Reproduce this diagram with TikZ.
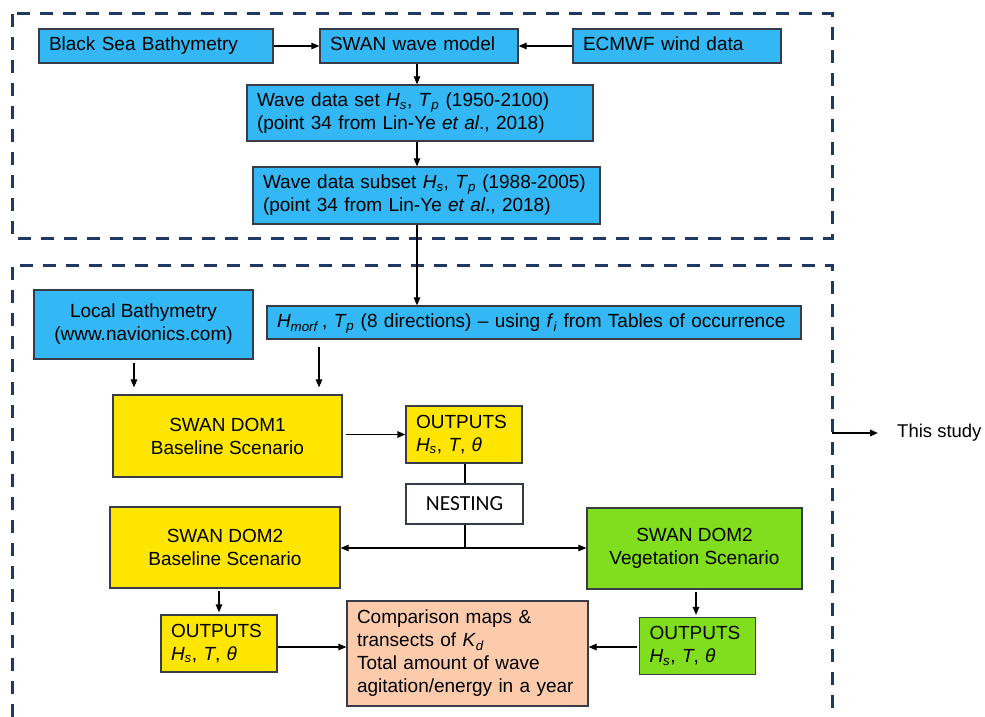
\documentclass[tikz,border=0pt]{standalone}
\usepackage{fontspec}
\setmainfont{Liberation Sans}
\newfontfamily\nestfont{Carlito}
\usetikzlibrary{arrows.meta}

\definecolor{seablue}{RGB}{51,183,245}
\definecolor{domyellow}{RGB}{255,230,0}
\definecolor{veggreen}{RGB}{128,222,30}
\definecolor{peach}{RGB}{251,203,172}
\definecolor{framenavy}{RGB}{31,56,100}
\definecolor{boxline}{RGB}{55,60,70}

\newcommand{\Hs}{\textit{H}\textsubscript{\textit{s}}}
\newcommand{\Tp}{\textit{T}\textsubscript{\textit{p}}}

\tikzset{
    box/.style={draw=boxline, line width=1.2pt, inner xsep=10pt, inner ysep=0pt,
        font=\fontsize{19}{23}\selectfont},
    seabox/.style={box, fill=seablue},
    onebox/.style={seabox, text height=14pt, text depth=4pt},
    dombox/.style={box, fill=domyellow, align=center},
    vegbox/.style={box, fill=veggreen, align=center},
    outbox/.style={box, text width=96pt, align=left, minimum height=57pt},
    frame/.style={draw=framenavy, line width=3pt, dash pattern=on 13pt off 10pt},
    link/.style={line width=1.2pt}
}

\begin{document}
\begin{tikzpicture}[x=1pt, y=-1pt, >={Triangle[length=8pt,width=6.5pt]}]
                \useasboundingbox (0,0) rectangle (985,717);
                % dashed frames
                \draw [frame] (12,14) rectangle (832,238);
                \draw [frame] (12,717) -- (12,265) -- (832,265) -- (832,717);
                % wave climate
                \node [onebox, minimum width=234pt, minimum height=34pt, text width=214pt, align=left] (bsb) at (156,46) {Black Sea Bathymetry};
                \node [onebox, minimum width=198pt, minimum height=34pt, text width=178pt, align=left] (swan) at (419,46) {SWAN wave model};
                \node [onebox, minimum width=208pt, minimum height=34pt, text width=188pt, align=left] (ecmwf) at (677,46) {ECMWF wind data};
                \node [seabox, text width=326pt, align=left, minimum height=56pt] (wds) at (420,113) {Wave data set \Hs, \Tp{} (1950-2100)\\(point 34 from Lin-Ye \textit{et al}., 2018)};
                \node [seabox, text width=327pt, align=left, minimum height=57pt] (wdsub) at (426.5,195.5) {Wave data subset \Hs, \Tp{} (1988-2005)\\(point 34 from Lin-Ye \textit{et al}., 2018)};
                % this study
                \node [onebox, text width=514pt, align=left, minimum height=33pt] (hmorf) at (534,322.5) {\textit{H}\textsubscript{\textit{morf}}\,, \Tp{} (8 directions) -- using \textit{f}\textsubscript{\textit{i}} from Tables of occurrence};
                \node [seabox, align=center, minimum width=219pt, minimum height=69pt] (local) at (143.5,324.5) {Local Bathymetry\\(www.navionics.com)};
                \node [dombox, minimum width=229pt, minimum height=82pt] (dom1) at (227.5,436) {SWAN DOM1\\Baseline Scenario};
                \node [outbox, fill=domyellow] (out1) at (464,434.5) {OUTPUTS\\\Hs, \textit{T}, \textit{θ}};
                \node [box, fill=white, minimum width=117pt, minimum height=40pt, font=\nestfont\fontsize{21.5}{24}\selectfont] (nest) at (464.5,504) {NESTING};
                \node [dombox, minimum width=230pt, minimum height=81pt] (dom2b) at (225,547.5) {SWAN DOM2\\Baseline Scenario};
                \node [vegbox, minimum width=215pt, minimum height=81pt] (dom2v) at (694.5,548.5) {SWAN DOM2\\Vegetation Scenario};
                \node [outbox, fill=domyellow] (out2b) at (219,643.5) {OUTPUTS\\\Hs, \textit{T}, \textit{θ}};
                \node [outbox, fill=veggreen] (out2v) at (697.5,646) {OUTPUTS\\\Hs, \textit{T}, \textit{θ}};
                \node [box, fill=peach, text width=221pt, align=left, minimum height=105pt] (cmp) at (467.5,653.5) {Comparison maps \&\\transects of \textit{K}\textsubscript{\textit{d}}\\Total amount of wave\\agitation/energy in a year};
                \coordinate (tap) at (832,433);
                \node [anchor=west, inner xsep=19pt, font=\fontsize{18.5}{22}\selectfont] (study) at (878,433) {This study};
                \coordinate (split) at (465,548);
                % connectors
                \draw [link, ->] (bsb) -- (swan);
                \draw [link, ->] (ecmwf) -- (swan);
                \draw [link, ->] (swan.south -| 417,0) -- (wds.north -| 417,0);
                \draw [link, ->] (wds.south -| 417,0) -- (wdsub.north -| 417,0);
                \draw [link, ->] (wdsub.south -| 417,0) -- (hmorf.north -| 417,0);
                \draw [link, ->, shorten <=3pt, shorten >=7pt] (local.south -| 134,0) -- (dom1.north -| 134,0);
                \draw [link, ->, shorten <=7pt, shorten >=7pt] (hmorf.south -| 319,0) -- (dom1.north -| 319,0);
                \draw [link, ->, shorten <=3pt] (dom1.east |- out1) -- (out1.west);
                \draw [link] (out1.south -| split) -- (nest.north -| split);
                \draw [link] (nest.south -| split) -- (split);
                \draw [link, ->] (split) -- (dom2b.east |- split);
                \draw [link, ->] (split) -- (dom2v.west |- split);
                \draw [link, ->, shorten <=2pt, shorten >=2pt] (dom2b.south -| out2b) -- (out2b.north);
                \draw [link, ->, shorten <=2pt, shorten >=2pt] (dom2v.south -| 696,0) -- (out2v.north -| 696,0);
                \draw [link, ->] (out2b.east |- 0,647) -- (cmp.west |- 0,647);
                \draw [link, ->, shorten <=2pt] (out2v.west |- 0,647) -- (cmp.east |- 0,647);
                \draw [link, line width=1.8pt, ->] (tap) -- (study.west);
\end{tikzpicture}
\end{document}
